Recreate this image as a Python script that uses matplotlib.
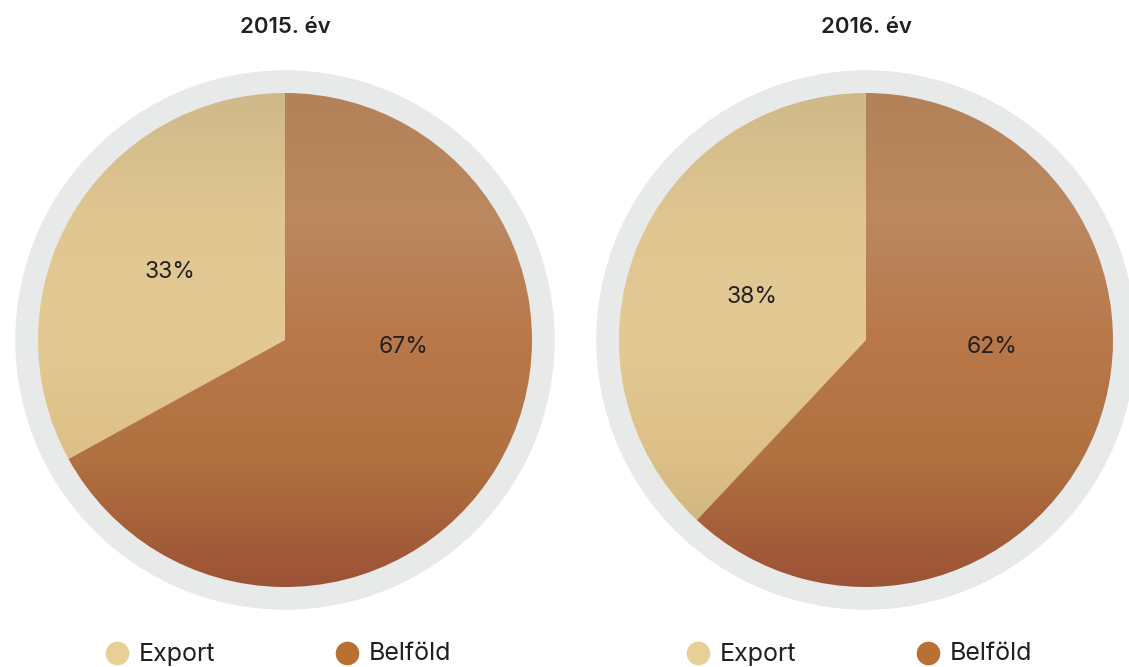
import numpy as np
import matplotlib.pyplot as plt
from matplotlib.colors import LinearSegmentedColormap

years = ["2015. év", "2016. év"]
categories = ["Export", "Belföld"]
export_share = [33, 38]
belfold_share = [67, 62]

# layout (pixels, y downwards)
centers = [(285, 340), (866, 340)]
R = 247
RING = 269
label_off = [[(-115, -68), (119, 7)], [(-114, -43), (126, 7)]]

export_cmap = LinearSegmentedColormap.from_list("exp", ["#cfb98a", "#e0c690", "#e3c993", "#dcbf86", "#c9ae7c"])
belf_cmap = LinearSegmentedColormap.from_list("bel", ["#b48259", "#bb8860", "#b9784a", "#b0703f", "#9c5236"])
legend_colors = ["#e8cf96", "#b87033"]

plt.rcParams['font.family'] = ['Inter', 'DejaVu Sans']
fig = plt.figure(figsize=(11.29, 6.67), dpi=100)
ax = fig.add_axes([0, 0, 1, 1])
ax.set_xlim(0, 1129)
ax.set_ylim(667, 0)
ax.set_aspect('equal')
ax.axis('off')

grad = np.linspace(0, 1, 256).reshape(-1, 1)

for k, (cx, cy) in enumerate(centers):
    ax.add_patch(plt.Circle((cx, cy), RING, color="#e8e9e9", zorder=1))
    vals = [export_share[k], belfold_share[k]]
    # y axis is inverted, so clockwise on screen is counterclock in data
    wedges, _ = ax.pie(vals, center=(cx, cy), radius=R, startangle=-90,
                       counterclock=False, frame=True)
    for w, cm in zip(wedges, [export_cmap, belf_cmap]):
        w.set_facecolor("none")
        w.set_edgecolor("none")
        im = ax.imshow(grad, cmap=cm, extent=(cx - R, cx + R, cy + R, cy - R),
                       origin='upper', aspect='auto', zorder=3, interpolation='bilinear')
        im.set_clip_path(w)
    for j, v in enumerate(vals):
        dx, dy = label_off[k][j]
        ax.text(cx + dx, cy + dy, f"{v}%", ha='center', va='center',
                fontsize=16.5, color="#231f20", zorder=5)
    ax.text(cx, 27, years[k], ha='center', va='center', fontsize=16,
            fontweight='semibold', color="#231f20")
    # legend
    for j, name in enumerate(categories):
        lx = cx - 168 + j * 230
        ax.plot(lx, 653, 'o', markersize=16, color=legend_colors[j], zorder=5)
        ax.text(lx + 22, 654, name, ha='left', va='center', fontsize=18,
                color="#231f20")

ax.set_xlim(0, 1129)
ax.set_ylim(667, 0)
fig.savefig("out.png", dpi=100)
